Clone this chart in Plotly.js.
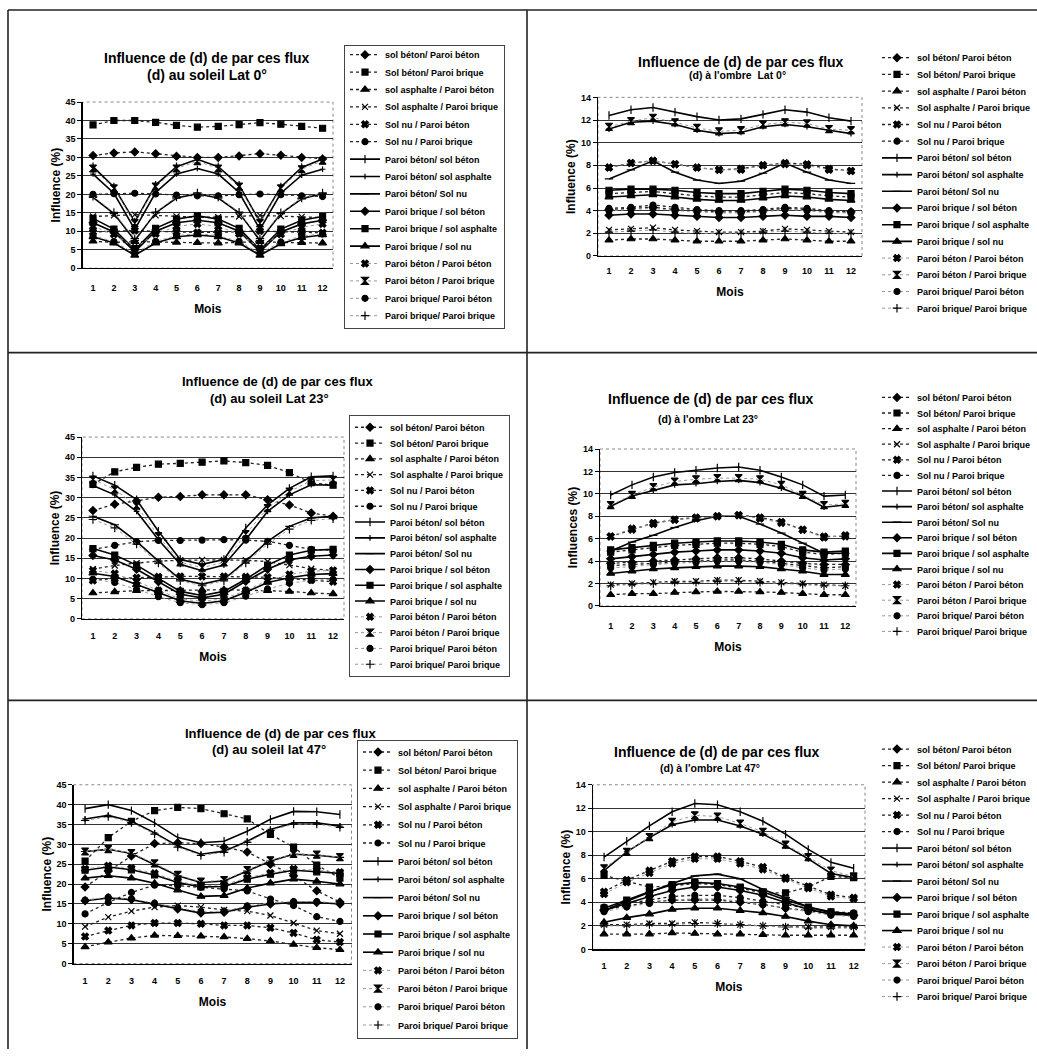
<!DOCTYPE html>
<html><head><meta charset="utf-8">
<script src="https://cdn.plot.ly/plotly-3.0.1.min.js"></script>
<style>html,body{margin:0;padding:0;background:#fff}#chart{width:1037px;height:1056px}</style>
</head><body><div id="chart"></div>
<script>
// ---------------- DATA ----------------
const months = [1,2,3,4,5,6,7,8,9,10,11,12];
const seriesNames = [
  "sol béton/ Paroi béton","Sol béton/ Paroi brique","sol asphalte / Paroi béton","Sol asphalte / Paroi brique",
  "Sol nu / Paroi béton","Sol nu / Paroi brique","Paroi béton/ sol béton","Paroi béton/ sol asphalte",
  "Paroi béton/ Sol nu","Paroi brique / sol béton","Paroi brique / sol asphalte","Paroi brique / sol nu",
  "Paroi béton / Paroi béton","Paroi béton / Paroi brique","Paroi brique/ Paroi béton","Paroi brique/ Paroi brique"
];
const titleLine1 = "Influence de (d) de par ces flux";
const subTitles = ["(d) au soleil Lat 0°","(d) à l'ombre  Lat 0°","(d) au soleil Lat 23°","(d) à l'ombre Lat 23°","(d) au soleil lat 47°","(d) à l'ombre Lat 47°"];
const yTitles = ["Influence (%)","Influence (%)","Influence (%)","Influences (%)","Influence (%)","Influence (%)"];
const xTitle = "Mois";

const sunLat0 = [
  [30.5,31.2,31.5,31,30.3,30,30,30.4,31,30.6,30,29.6],
  [38.8,40,40,39.5,38.7,38.2,38.4,38.9,39.4,39,38.4,37.9],
  [7.3,7,7.2,7,7,6.9,6.8,7,7.2,7,6.9,6.8],
  [14,14.3,14.5,14.3,14,13.8,13.8,14,14.3,14.1,13.9,13.7],
  [9.8,10,10.2,10,9.8,9.7,9.7,9.9,10.1,9.9,9.7,9.6],
  [20,20.2,20.3,20.1,19.8,19.6,19.6,19.9,20.1,19.9,19.6,19.4],
  [27.5,22,12.5,22.5,27.5,29.5,27.5,22.5,12.5,22,27.3,29.6],
  [25.5,20.3,10.5,20.5,25.5,27,25.5,20.5,10.5,20.3,25.2,26.8],
  [19.2,14.8,7.5,15,19,20.2,19,15,7.5,14.8,18.8,20.2],
  [12.3,9.8,4.5,10,12.3,13,12.3,10,4.5,9.8,12,13],
  [13.5,10.6,5,10.8,13.3,14.2,13.3,10.8,5,10.6,13,14],
  [8.5,6.8,3.5,6.8,8.5,9,8.5,6.8,3.5,6.6,8.3,9],
  [11.3,9.2,5.5,9.3,11.3,12,11.3,9.3,5.5,9.2,11.1,12],
  [27,21.6,12.2,22.1,27,29,27,22.1,12.2,21.6,26.8,29.1],
  [8.8,7.2,4,7.3,8.8,9.4,8.8,7.3,4,7.1,8.7,9.3],
  [19.5,15.1,8,15.2,19.3,20.4,19.3,15.2,8,15,19,20.4]
];
const shadeLat0 = [
  [4.1,4.2,4.3,4.1,4.0,3.9,3.9,4.0,4.2,4.1,3.9,3.9],
  [5.5,5.6,5.7,5.5,5.3,5.2,5.2,5.4,5.6,5.5,5.3,5.2],
  [1.4,1.5,1.5,1.4,1.3,1.3,1.3,1.4,1.5,1.4,1.3,1.3],
  [2.3,2.4,2.5,2.3,2.2,2.1,2.1,2.2,2.4,2.3,2.2,2.1],
  [7.8,8.2,8.4,8.1,7.8,7.6,7.7,8,8.2,8.1,7.7,7.5],
  [4.2,4.3,4.5,4.3,4.1,4.0,4.0,4.1,4.3,4.2,4.0,3.9],
  [12.4,12.9,13.1,12.7,12.3,12.0,12.1,12.5,12.9,12.7,12.2,11.9],
  [11.2,11.8,11.9,11.6,11.1,10.8,10.9,11.4,11.6,11.4,11.1,10.8],
  [6.8,7.6,8.4,7.4,6.7,6.4,6.6,7.3,8.2,7.4,6.7,6.4],
  [3.6,3.7,3.7,3.6,3.5,3.4,3.4,3.5,3.6,3.5,3.5,3.4],
  [5.8,5.9,5.9,5.8,5.6,5.5,5.5,5.7,5.9,5.8,5.6,5.5],
  [5.2,5.3,5.4,5.2,5.0,4.9,4.9,5.1,5.3,5.2,5.0,4.9],
  [7.8,8.2,8.4,8.1,7.8,7.6,7.6,8,8.1,8,7.6,7.5],
  [11.4,11.9,12.2,11.8,11.3,11.0,11.1,11.6,11.8,11.7,11.2,11.1],
  [4.0,4.1,4.2,4.0,3.9,3.8,3.8,3.9,4.1,4.0,3.8,3.8],
  [2.1,2.2,2.3,2.1,2.0,2.0,2.0,2.1,2.2,2.1,2.0,2.0]
];
const sunLat23 = [
  [26.8,28.4,29.2,30.1,30.3,30.7,30.7,30.7,29.5,28.2,26.2,25.4],
  [33.3,36.4,37.5,38.3,38.5,38.8,39.1,38.7,38,36.2,33.7,33.1],
  [6.4,6.7,7,7,7.1,7.2,7.2,7.1,7,6.8,6.4,6.2],
  [12.3,13.2,13.8,14.3,14.5,14.6,14.6,14.5,14.2,13.3,12.4,12],
  [9.5,10,10.2,10.4,10.5,10.5,10.5,10.4,10.3,10,9.6,9.2],
  [17.2,18.2,19.1,19.4,19.4,19.5,19.6,19.5,19.2,18.2,17.2,17],
  [35.4,33.1,29.5,21.7,14.7,13.5,14.7,22.5,28.2,32.3,35.2,35.4],
  [33,30.7,26.6,19.6,13.5,11.9,13.3,19.6,26.6,30.7,33.2,33.1],
  [25.4,23.3,19.2,14.3,9.8,8.6,9.8,14.3,19.2,22.9,25,25.4],
  [15.7,14.6,12.3,9.2,6.1,5.2,6.1,9.3,12.3,14.6,15.5,15.8],
  [17.4,15.8,13.3,10,6.8,5.8,6.8,9.8,13.3,15.8,17,17.2],
  [11.3,10.5,8.5,6.5,4.5,3.8,4.5,6.6,9,10.2,11,11.2],
  [12,11.2,9.3,7,5,4.3,5,7,9.5,11,11.8,12],
  [34.5,32,28,20.5,14,12.7,14,21,27.4,31.5,34.2,34.4],
  [9.8,9,7.3,5.5,4,3.5,4,5.6,7.4,8.8,9.6,9.8],
  [24.6,22.5,18.5,13.8,9.4,8.2,9.4,13.8,18.5,22.2,24.4,24.8]
];
const shadeLat23 = [
  [3.8,3.9,4.0,4.1,4.2,4.3,4.3,4.2,4.0,3.8,3.7,3.7],
  [4.8,5,5.2,5.4,5.5,5.6,5.6,5.5,5.3,4.8,4.6,4.7],
  [1.0,1.1,1.1,1.2,1.25,1.3,1.3,1.25,1.2,1.1,1.0,1.0],
  [1.9,2,2.1,2.2,2.2,2.3,2.3,2.2,2.1,2,1.9,1.8],
  [6.2,6.8,7.4,7.7,7.9,8,8.1,7.9,7.5,6.8,6.2,6.2],
  [3.6,3.7,3.8,3.9,4,4.1,4.1,4,3.8,3.6,3.4,3.5],
  [9.9,10.8,11.5,11.9,12.1,12.3,12.4,12.1,11.5,10.8,9.8,9.9],
  [8.9,9.8,10.3,10.8,10.9,11.1,11.2,11,10.5,9.8,8.8,9],
  [4.9,5.7,6.3,7,7.6,8,8,7.3,6.5,5.6,4.7,4.7],
  [4.2,4.4,4.6,4.8,4.9,5,5,4.9,4.7,4.3,4.1,4.2],
  [5,5.2,5.4,5.6,5.7,5.8,5.8,5.7,5.5,5,4.8,4.9],
  [2.9,3.1,3.3,3.4,3.5,3.55,3.55,3.5,3.3,3.1,2.8,2.8],
  [6.2,6.9,7.3,7.7,7.8,8,8.1,7.8,7.4,6.8,6.1,6.3],
  [9,9.9,10.6,11.1,11.3,11.4,11.4,11.3,10.8,9.9,9,9.1],
  [3.4,3.5,3.7,3.8,3.9,4,4,3.9,3.7,3.4,3.2,3.3],
  [1.8,1.9,2,2.1,2.1,2.2,2.2,2.1,2,1.9,1.8,1.8]
];
const sunLat47 = [
  [19.3,23.3,27.1,30.2,30.4,30.2,29.3,28.1,25,22.1,18.3,15.5],
  [25.8,31.7,35.8,38.5,39.3,39,37.7,36.4,32.5,29.3,24.8,21.5],
  [4.2,5.4,6.4,7.1,7,6.9,6.7,6.25,5.7,4.8,4,3.5],
  [9.3,11.7,13.2,14.2,14.6,14.2,13.5,13.2,12.1,10.2,8.3,7.5],
  [6.8,8.3,9.6,10.2,10.2,10,9.6,9.6,9,7.7,6,5.4],
  [12.5,15.4,17.9,19.75,19.6,19.2,18.8,18.3,16.25,14.6,11.8,10.6],
  [39,40,38.5,35.4,31.7,30.4,30.8,33.3,36.3,38.3,38.2,37.5],
  [36.4,37.3,35.8,32.9,29.6,27.5,28.3,30.8,33.75,35.4,35.4,34.6],
  [28.2,28.75,27.7,25,22.1,20.4,20.8,23.3,25.8,27.5,27.25,26.7],
  [15.8,16.5,16.1,15,13.75,12.7,12.9,14.2,15,15.4,15.4,15],
  [23.5,24.3,23.6,22.3,20.4,19.3,19.4,21.25,22.5,23.5,23.1,22.7],
  [21.5,22.1,21.5,20.2,18.5,16.9,17.1,19,20.25,21.25,20.7,20],
  [23.8,24.6,24,22.7,20.7,19.6,19.8,21.6,22.8,23.8,23.5,23],
  [28.2,28.8,27.8,25.2,22.3,20.6,21,23.5,26,27.6,27.4,26.8],
  [16,16.7,16.3,15.2,14,13,13.2,14.5,15.3,15.6,15.6,15.2],
  [36,37,35.5,32.6,29.3,27.2,28,30.5,33.5,35.1,35.1,34.3]
];
const shadeLat47 = [
  [3.4,3.7,4,4.2,4.2,4.2,4,3.8,3.5,3.3,3,2.9],
  [6.3,5.8,5.3,5.4,5.6,5.5,5.2,4.8,4.8,5.3,6.2,6.1],
  [1.3,1.3,1.3,1.4,1.35,1.3,1.3,1.25,1.2,1.2,1.2,1.2],
  [2.1,2.1,2.2,2.2,2.3,2.2,2.1,2,1.9,1.9,1.9,1.9],
  [4.9,5.9,6.7,7.5,7.9,7.9,7.5,7,6.1,5.35,4.65,4.4],
  [3.6,3.9,4.2,4.5,4.6,4.6,4.4,4.1,3.8,3.5,3.2,3.1],
  [7.85,9.2,10.5,11.7,12.4,12.3,11.7,10.9,9.8,8.5,7.4,6.9],
  [6.7,8.3,9.5,10.6,11,11,10.5,9.8,8.8,7.7,6.45,6.1],
  [3.3,4.1,4.85,5.6,6.25,6.4,6,5.1,4.4,3.6,3.1,2.9],
  [3.3,3.9,4.5,5,5.3,5.3,5,4.6,4,3.4,3.0,2.9],
  [3.5,4.2,4.9,5.5,5.7,5.6,5.3,4.9,4.2,3.6,3.2,3.0],
  [2.3,2.7,3.0,3.4,3.5,3.5,3.3,3.1,2.8,2.4,2.1,2.0],
  [4.7,5.7,6.5,7.3,7.7,7.7,7.3,6.8,6,5.2,4.5,4.3],
  [6.9,8.3,9.55,10.85,11.4,11.3,10.7,10,8.9,7.85,6.7,6.2],
  [3.2,3.6,3.9,4.2,4.3,4.3,4.1,3.8,3.5,3.2,2.9,2.8],
  [2.0,2.0,2.1,2.1,2.2,2.2,2.1,2.0,1.9,1.8,1.8,1.8]
];

// ---------------- STYLE / LAYOUT ----------------
const W = 1037, H = 1056;
const FONT = "Arial, 'Liberation Sans', sans-serif";
const px = v => v / W, py = v => 1 - v / H;

const STY = [
  {dash:'dot', lc:'#222', w:1.3, sym:'diamond', sz:6},
  {dash:'dot', lc:'#222', w:1.3, sym:'square', sz:6},
  {dash:'dot', lc:'#222', w:1.3, sym:'triangle-up', sz:7},
  {dash:'dot', lc:'#222', w:1.3, sym:'x-thin-open', sz:6},
  {dash:'dot', lc:'#222', w:1.3, sym:'x', sz:6},
  {dash:'dot', lc:'#222', w:1.3, sym:'circle', sz:6},
  {dash:'solid', lc:'#000', w:1.6, sym:'line-ns-open', sz:6},
  {dash:'solid', lc:'#000', w:1.6, sym:'cross-thin-open', sz:4},
  {dash:'solid', lc:'#000', w:1.6, sym:'line-ew-open', sz:6},
  {dash:'solid', lc:'#000', w:1.6, sym:'diamond', sz:6},
  {dash:'solid', lc:'#000', w:1.6, sym:'square', sz:6},
  {dash:'solid', lc:'#000', w:1.6, sym:'triangle-up', sz:7},
  {dash:'dot', lc:'#999', w:1, sym:'x', sz:6},
  {dash:'dot', lc:'#999', w:1, sym:'hourglass', sz:7},
  {dash:'dot', lc:'#999', w:1, sym:'circle', sz:6},
  {dash:'dot', lc:'#999', w:1, sym:'cross-thin-open', sz:6}
];

const PANELS = [
  {data:sunLat0,   ymax:45, dt:5, x0:82.6, x1:333,   yT:102.7, yB:270,   tl:10.5, t1:[207,58,14],  t2:[207,75,14], ys:2,  xs:12,
   lg:{left:344, top:45, first:55, step:17.4, border:true}},
  {data:shadeLat0, ymax:14, dt:2, x0:598,  x1:862,   yT:98,    yB:257.7, tl:6,    t1:[741,62,14],  t2:[737,75,10.5], ys:2, xs:12,
   lg:{left:877, top:48, first:58, step:16.7, border:false}},
  {data:sunLat23,  ymax:45, dt:5, x0:82,   x1:344,   yT:440,   yB:623,   tl:8.5,  t1:[277,384,13], t2:[269,401,13], ys:2,  xs:12,
   lg:{left:349, top:418, first:430, step:15.8, border:true}},
  {data:shadeLat23,ymax:14, dt:2, x0:600,  x1:856,   yT:452,   yB:610,   tl:11.5, t1:[711,402,14], t2:[708,422,10.5], ys:2, xs:12,
   lg:{left:877, top:390, first:400, step:15.6, border:false}},
  {data:sunLat47,  ymax:45, dt:5, x0:73.5, x1:351.5, yT:790,   yB:970,   tl:8.5,  t1:[280,738,13], t2:[269,755,13], ys:2,  xs:12,
   lg:{left:357, top:745, first:757, step:18.2, border:true}},
  {data:shadeLat47,ymax:14, dt:2, x0:592.7,x1:865,   yT:790,   yB:955.7, tl:8,    t1:[717,757,14], t2:[710,773,10.5], ys:2, xs:12,
   lg:{left:877, top:744, first:754, step:16.5, border:false}}
];

const traces = [];
const layout = {
  width: W, height: H, margin:{l:0,r:0,t:0,b:0},
  paper_bgcolor:'#fff', plot_bgcolor:'#fff',
  font:{family:FONT, color:'#000', size:9, weight:'bold'},
  showlegend:true, annotations:[], shapes:[]
};

PANELS.forEach((P, k) => {
  const n = k === 0 ? '' : String(k + 1);
  const lgId = 'legend' + n;
  P.data.forEach((vals, i) => {
    const s = STY[i];
    traces.push({
      type:'scatter', mode:'lines+markers', x: months, y: vals, name: seriesNames[i],
      xaxis:'x' + n, yaxis:'y' + n, legend: lgId,
      line:{color:s.lc, width:s.w, dash:s.dash},
      marker:{symbol:s.sym, size:s.sz, color:'#000', line:{color:'#000', width:1.2}}
    });
  });
  layout['xaxis' + n] = {
    domain:[px(P.x0), px(P.x1)], anchor:'y' + n, range:[0.5, 12.5],
    tickmode:'array', tickvals: months, ticktext: months.map(String),
    showgrid:false, zeroline:false, showline:true, linecolor:'#000', linewidth:1.2,
    ticks:'outside', ticklen:P.tl, tickcolor:'rgba(0,0,0,0)',
    tickfont:{family:FONT, size:9, weight:'bold', color:'#000'},
    title:{text:xTitle, font:{family:FONT, size:12, weight:'bold', color:'#000'}, standoff:P.xs}
  };
  layout['yaxis' + n] = {
    domain:[py(P.yB), py(P.yT)], anchor:'x' + n, range:[0, P.ymax], dtick:P.dt, tick0:0,
    showgrid:true, gridcolor:'#333', gridwidth:1, zeroline:false,
    showline:true, linecolor:'#000', linewidth:1.2,
    ticks:'outside', ticklen:4, tickcolor:'#000',
    tickfont:{family:FONT, size:9, weight:'bold', color:'#000'},
    title:{text:yTitles[k], font:{family:FONT, size:12, weight:'bold', color:'#000'}, standoff:P.ys}
  };
  layout[lgId] = {
    x: px(P.lg.left), y: py(P.lg.top), xanchor:'left', yanchor:'top',
    bgcolor:'rgba(255,255,255,0)', bordercolor: P.lg.border ? '#444' : 'rgba(0,0,0,0)',
    borderwidth: P.lg.border ? 1 : 0,
    font:{family:FONT, size:9, weight:'bold', color:'#000'}, tracegroupgap:0
  };
  layout.annotations.push(
    {xref:'paper', yref:'paper', x:px(P.t1[0]), y:py(P.t1[1]), xanchor:'center', yanchor:'middle',
     text:titleLine1, showarrow:false, font:{family:FONT, size:P.t1[2], weight:'bold', color:'#000'}},
    {xref:'paper', yref:'paper', x:px(P.t2[0]), y:py(P.t2[1]), xanchor:'center', yanchor:'middle',
     text:subTitles[k], showarrow:false, font:{family:FONT, size:P.t2[2], weight:'bold', color:'#000'}}
  );
  layout.shapes.push({type:'rect', xref:'x' + n + ' domain', yref:'y' + n + ' domain', x0:0, x1:1, y0:0, y1:1,
    line:{color:'#888', width:1, dash:'dot'}, layer:'below'});
});

// outer frame and panel dividers
[[8,10,1037,10],[8,10,8,1056],[527,10,527,1056],[8,355,1037,355],[8,705,1037,705]].forEach(L => {
  layout.shapes.push({type:'line', xref:'paper', yref:'paper', x0:px(L[0]), y0:py(L[1]), x1:px(L[2]), y1:py(L[3]),
    line:{color:'#222', width:1.6}});
});

function tightenLegends(gd) {
  PANELS.forEach((P, k) => {
    const id = 'legend' + (k === 0 ? '' : String(k + 1));
    const g = gd.querySelector('.infolayer > g.' + id);
    if (!g) return;
    const items = g.querySelectorAll('g.traces');
    let x = 0;
    items.forEach((it, i) => {
      const m = /translate\(\s*([-\d.e]+)[\s,]+([-\d.e]+)\s*\)/.exec(it.getAttribute('transform') || '');
      x = m ? m[1] : 0;
      it.setAttribute('transform', 'translate(' + x + ',' + (P.lg.first - P.lg.top + i * P.lg.step) + ')');
    });
    const bg = g.querySelector('rect.bg');
    if (bg) bg.setAttribute('height', (P.lg.first - P.lg.top) + (items.length - 1) * P.lg.step + P.lg.step / 2 + 4);
  });
}

Plotly.newPlot('chart', traces, layout, {staticPlot:true, displayModeBar:false}).then(tightenLegends);
</script>
</body></html>
